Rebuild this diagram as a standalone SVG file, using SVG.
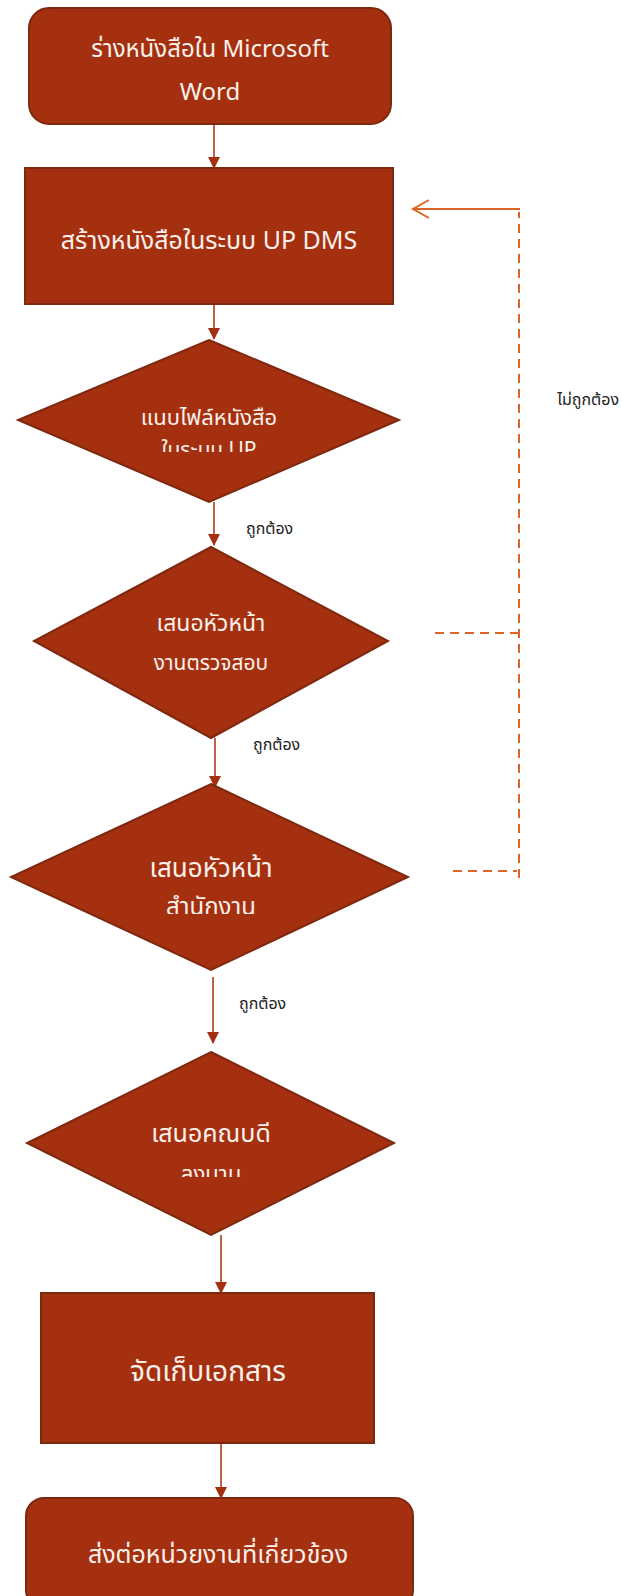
<svg xmlns="http://www.w3.org/2000/svg" width="622" height="1596" viewBox="0 0 622 1596">
<style>
.node{fill:#A5300F;stroke:#7E2810;stroke-width:2}
.t{font-family:"Noto Sans Thai","Noto Sans","Liberation Sans",sans-serif;fill:#FBF0EC;text-anchor:middle}
.lbl{font-family:"Noto Sans Thai","Noto Sans","Liberation Sans",sans-serif;fill:#222;font-size:16px}
.conn{stroke:#A5300F;stroke-width:1.5;fill:none}
.dash{stroke:#DC6427;stroke-width:2;fill:none;stroke-dasharray:9,6}
</style>
<defs>
<marker id="ah" markerWidth="12" markerHeight="12" refX="6" refY="11" orient="0" markerUnits="userSpaceOnUse">
<path d="M0,0 L12,0 L6,12 Z" fill="#A5300F"/>
</marker>
<clipPath id="c1"><rect x="0" y="0" width="622" height="452"/></clipPath>
<clipPath id="c3"><rect x="0" y="0" width="622" height="914"/></clipPath>
<clipPath id="c4"><rect x="0" y="0" width="622" height="1177"/></clipPath>
</defs>
<g id="connectors">
<line class="conn" x1="214" y1="124" x2="214" y2="168" marker-end="url(#ah)"/>
<line class="conn" x1="214" y1="304" x2="214" y2="339" marker-end="url(#ah)"/>
<line class="conn" x1="214" y1="502" x2="214" y2="545" marker-end="url(#ah)"/>
<line class="conn" x1="215" y1="738" x2="215" y2="787" marker-end="url(#ah)"/>
<line class="conn" x1="213" y1="977" x2="213" y2="1043" marker-end="url(#ah)"/>
<line class="conn" x1="221" y1="1235" x2="221" y2="1293" marker-end="url(#ah)"/>
<line class="conn" x1="221" y1="1443" x2="221" y2="1498" marker-end="url(#ah)"/>
<path class="dash" d="M435,633 H519"/>
<path class="dash" d="M453,871 H517"/>
<path class="dash" d="M519,878 V212"/>
<path d="M520,209 H413 M429,200 L413,209 L429,218" stroke="#DC6427" stroke-width="2" fill="none"/>
<text class="lbl" x="246" y="534">ถูกต้อง</text>
<text class="lbl" x="253" y="750">ถูกต้อง</text>
<text class="lbl" x="239" y="1009">ถูกต้อง</text>
<text class="lbl" x="619" y="405" text-anchor="end" font-size="15">ไม่ถูกต้อง</text>
</g>
<g id="n1">
<rect class="node" x="29" y="8" width="362" height="116" rx="20"/>
<text class="t" x="210" y="57" font-size="24">ร่างหนังสือใน Microsoft</text>
<text class="t" x="210" y="100" font-size="24">Word</text>
</g>
<g id="n2">
<rect class="node" x="25" y="168" width="368" height="136"/>
<text class="t" x="209" y="249" font-size="25">สร้างหนังสือในระบบ UP DMS</text>
</g>
<g id="n3">
<polygon class="node" points="209,340 399,420 209,502 18,420"/>
<text class="t" x="209" y="425" font-size="22">แนบไฟล์หนังสือ</text>
<text class="t" x="209" y="457" font-size="21" clip-path="url(#c1)">ในระบบ UP</text>
</g>
<g id="n4">
<polygon class="node" points="211,547 388,641 211,738 34,641"/>
<text class="t" x="211" y="631" font-size="23">เสนอหัวหน้า</text>
<text class="t" x="211" y="670" font-size="21">งานตรวจสอบ</text>
</g>
<g id="n5">
<polygon class="node" points="211,784 408,877 211,970 11,877"/>
<text class="t" x="211" y="877" font-size="26">เสนอหัวหน้า</text>
<text class="t" x="211" y="915" font-size="24" clip-path="url(#c3)">สำนักงาน</text>
</g>
<g id="n6">
<polygon class="node" points="211,1052 394,1143 211,1235 27,1143"/>
<text class="t" x="211" y="1142" font-size="25">เสนอคณบดี</text>
<text class="t" x="211" y="1181" font-size="22" clip-path="url(#c4)">ลงนาม</text>
</g>
<g id="n7">
<rect class="node" x="41" y="1293" width="333" height="150"/>
<text class="t" x="208" y="1381" font-size="28">จัดเก็บเอกสาร</text>
</g>
<g id="n8">
<rect class="node" x="26" y="1498" width="387" height="110" rx="18"/>
<text class="t" x="218" y="1563" font-size="25">ส่งต่อหน่วยงานที่เกี่ยวข้อง</text>
</g>
</svg>
